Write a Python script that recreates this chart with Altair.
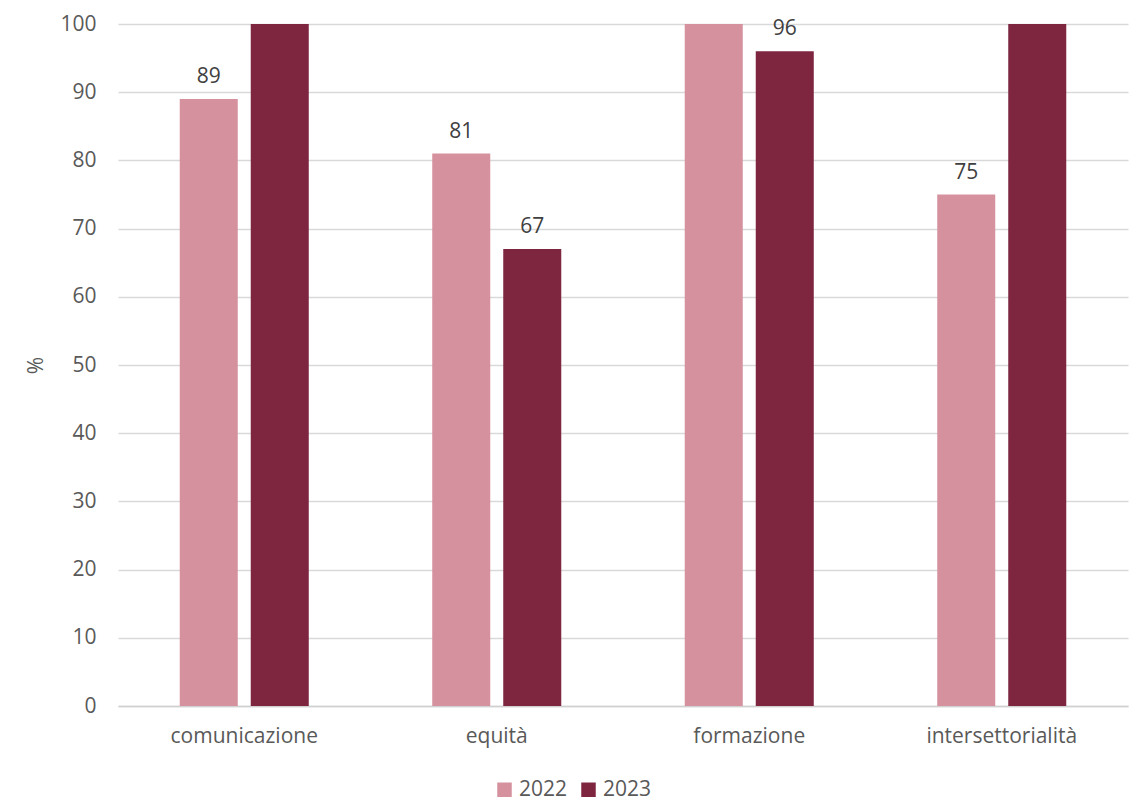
import altair as alt
import pandas as pd

categories = ["comunicazione", "equità", "formazione", "intersettorialità"]
years = ["2022", "2023"]
values_2022 = [89, 81, 100, 75]
values_2023 = [100, 67, 96, 100]

rows = []
for i, cat in enumerate(categories):
    rows.append({"categoria": cat, "anno": "2022", "valore": values_2022[i]})
    rows.append({"categoria": cat, "anno": "2023", "valore": values_2023[i]})
df = pd.DataFrame(rows)

FONT = "Open Sans"
TEXT = "#595959"
FS = 21
colors = ["#D5919E", "#7E2640"]

x = alt.X("categoria:N", sort=categories, title=None,
          scale=alt.Scale(paddingInner=0.489, paddingOuter=0.2445),
          axis=alt.Axis(labelAngle=0, ticks=False, domain=True, domainColor="#D0D0D0",
                        domainWidth=1.5, labelPadding=19, labelFontSize=FS,
                        labelColor=TEXT, labelFont=FONT))
xo = alt.XOffset("anno:N", sort=years,
                 scale=alt.Scale(paddingInner=0.183, paddingOuter=0))
y = alt.Y("valore:Q", title="%",
          scale=alt.Scale(domain=[0, 100], nice=False, clamp=True),
          axis=alt.Axis(values=list(range(0, 101, 10)), ticks=False, domain=False,
                        gridColor="#D9D9D9", gridWidth=1.5, labelPadding=22,
                        labelFontSize=FS, labelColor=TEXT, labelFont=FONT,
                        titleFontSize=FS, titleColor=TEXT, titleFont=FONT,
                        titleFontWeight="normal", titlePadding=13))

bars = alt.Chart(df).mark_bar(clip=True).encode(
    x=x, xOffset=xo, y=y,
    color=alt.Color("anno:N", sort=years,
                    scale=alt.Scale(domain=years, range=colors),
                    legend=alt.Legend(title=None, orient="none", direction="horizontal",
                                      legendX=376, legendY=755, symbolType="square",
                                      symbolSize=210, symbolStrokeWidth=0,
                                      labelFontSize=FS, labelColor=TEXT, labelFont=FONT,
                                      columnPadding=10, labelOffset=4)),
)

labels = alt.Chart(df).transform_filter("datum.valore < 100").mark_text(
    baseline="bottom", dy=-12, fontSize=FS, font=FONT, color="#404040"
).encode(
    x=alt.X("categoria:N", sort=categories), xOffset=alt.XOffset("anno:N", sort=years),
    y="valore:Q", text=alt.Text("valore:Q", format="d"),
)

chart = alt.layer(bars, labels).properties(
    width=1010, height=682,
    background="white",
    autosize=alt.AutoSizeParams(type="none"),
    padding={"left": 118, "top": 24, "right": 12, "bottom": 102},
).configure_view(stroke=None)

chart.save("out.html", embed_options={"renderer": "svg", "actions": False})
